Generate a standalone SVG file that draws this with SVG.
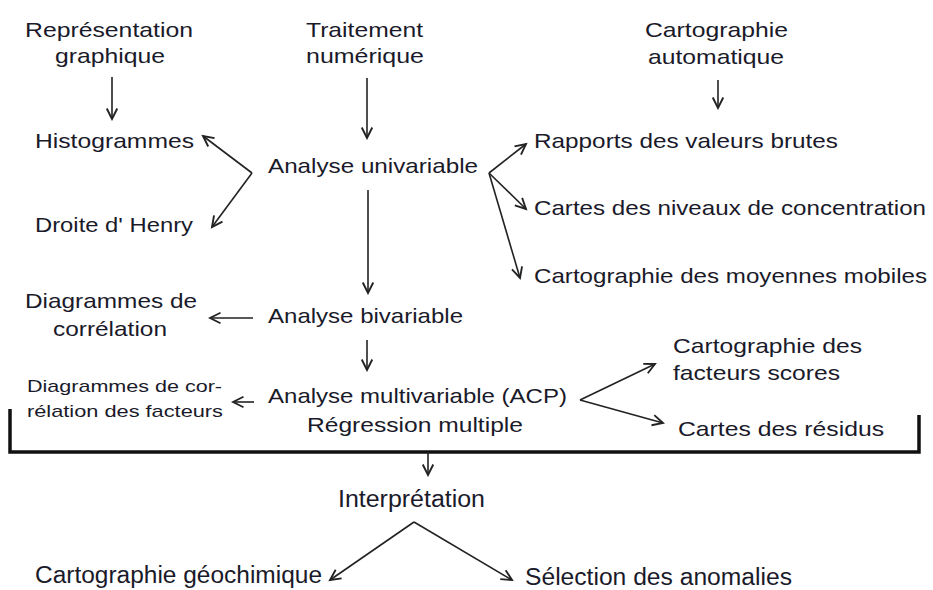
<svg xmlns="http://www.w3.org/2000/svg" width="933" height="590" viewBox="0 0 933 590">
<style>
text{font-family:"Liberation Sans",Arial,sans-serif;font-size:21px;fill:#1a1a2a}
.s{font-size:17px}
.b{font-size:23px}
.c line,.c path{stroke:#222;stroke-width:1.6;fill:none}
.c line{marker-end:url(#ah)}
</style>
<defs>
<marker id="ah" markerUnits="userSpaceOnUse" markerWidth="14" markerHeight="14" refX="10" refY="5" orient="auto" viewBox="0 0 12 10">
<path d="M1,0.5 L10,5 L1,9.5" fill="none" stroke="#222" stroke-width="1.6"/>
</marker>
</defs>
<g id="nodes">
<g id="n-rep"><text x="25" y="37" textLength="168" lengthAdjust="spacingAndGlyphs">Représentation</text><text x="55" y="63" textLength="110" lengthAdjust="spacingAndGlyphs">graphique</text></g>
<g id="n-trait"><text x="306" y="37" textLength="117" lengthAdjust="spacingAndGlyphs">Traitement</text><text x="306" y="63" textLength="118" lengthAdjust="spacingAndGlyphs">numérique</text></g>
<g id="n-carto"><text x="645" y="37" textLength="143" lengthAdjust="spacingAndGlyphs">Cartographie</text><text x="648" y="64" textLength="136" lengthAdjust="spacingAndGlyphs">automatique</text></g>
<g id="n-histo"><text x="35" y="148" textLength="159" lengthAdjust="spacingAndGlyphs">Histogrammes</text></g>
<g id="n-uni"><text x="268" y="173" textLength="210" lengthAdjust="spacingAndGlyphs">Analyse univariable</text></g>
<g id="n-henry"><text x="35" y="232" textLength="158" lengthAdjust="spacingAndGlyphs">Droite d' Henry</text></g>
<g id="n-rapports"><text x="534" y="148" textLength="304" lengthAdjust="spacingAndGlyphs">Rapports des valeurs brutes</text></g>
<g id="n-cartes"><text x="534" y="215" textLength="392" lengthAdjust="spacingAndGlyphs">Cartes des niveaux de concentration</text></g>
<g id="n-moy"><text x="534" y="283" textLength="393" lengthAdjust="spacingAndGlyphs">Cartographie des moyennes mobiles</text></g>
<g id="n-diag"><text x="25" y="308" textLength="172" lengthAdjust="spacingAndGlyphs">Diagrammes de</text><text x="53" y="336" textLength="114" lengthAdjust="spacingAndGlyphs">corrélation</text></g>
<g id="n-bi"><text x="268" y="323" textLength="195" lengthAdjust="spacingAndGlyphs">Analyse bivariable</text></g>
<g id="n-diagf"><text class="s" x="27" y="392" textLength="195" lengthAdjust="spacingAndGlyphs">Diagrammes de cor-</text><text class="s" x="27" y="417" textLength="196" lengthAdjust="spacingAndGlyphs">rélation des facteurs</text></g>
<g id="n-multi"><text x="268" y="403" textLength="299" lengthAdjust="spacingAndGlyphs">Analyse multivariable (ACP)</text><text x="307" y="432" textLength="216" lengthAdjust="spacingAndGlyphs">Régression multiple</text></g>
<g id="n-scores"><text x="673" y="353" textLength="189" lengthAdjust="spacingAndGlyphs">Cartographie des</text><text x="673" y="380" textLength="167" lengthAdjust="spacingAndGlyphs">facteurs scores</text></g>
<g id="n-resid"><text x="678" y="436" textLength="206" lengthAdjust="spacingAndGlyphs">Cartes des résidus</text></g>
<g id="n-interp"><text class="b" x="338" y="507" textLength="147" lengthAdjust="spacingAndGlyphs">Interprétation</text></g>
<g id="n-geo"><text class="b" x="35" y="583" textLength="287" lengthAdjust="spacingAndGlyphs">Cartographie géochimique</text></g>
<g id="n-sel"><text class="b" x="525" y="585" textLength="267" lengthAdjust="spacingAndGlyphs">Sélection des anomalies</text></g>
</g>
<g id="connectors" class="c">
<line x1="112" y1="77" x2="112" y2="119"/>
<line x1="367" y1="78" x2="367" y2="138"/>
<line x1="718" y1="80" x2="718" y2="108"/>
<line x1="252" y1="173" x2="203" y2="136"/>
<line x1="252" y1="173" x2="212" y2="227"/>
<line x1="489" y1="173" x2="526" y2="144"/>
<line x1="489" y1="173" x2="526" y2="209"/>
<line x1="489" y1="173" x2="520" y2="278"/>
<line x1="368" y1="190" x2="368" y2="293"/>
<line x1="253" y1="318" x2="210" y2="318"/>
<line x1="367" y1="340" x2="367" y2="370"/>
<line x1="254" y1="402" x2="233" y2="402"/>
<line x1="580" y1="400" x2="655" y2="364"/>
<line x1="580" y1="400" x2="663" y2="423"/>
<path d="M10,409 V452 H919 V415" style="stroke:#111;stroke-width:3.5"/>
<line x1="428" y1="452" x2="428" y2="475"/>
<line x1="414" y1="522" x2="330" y2="580"/>
<line x1="414" y1="522" x2="512" y2="580"/>
</g>
</svg>
